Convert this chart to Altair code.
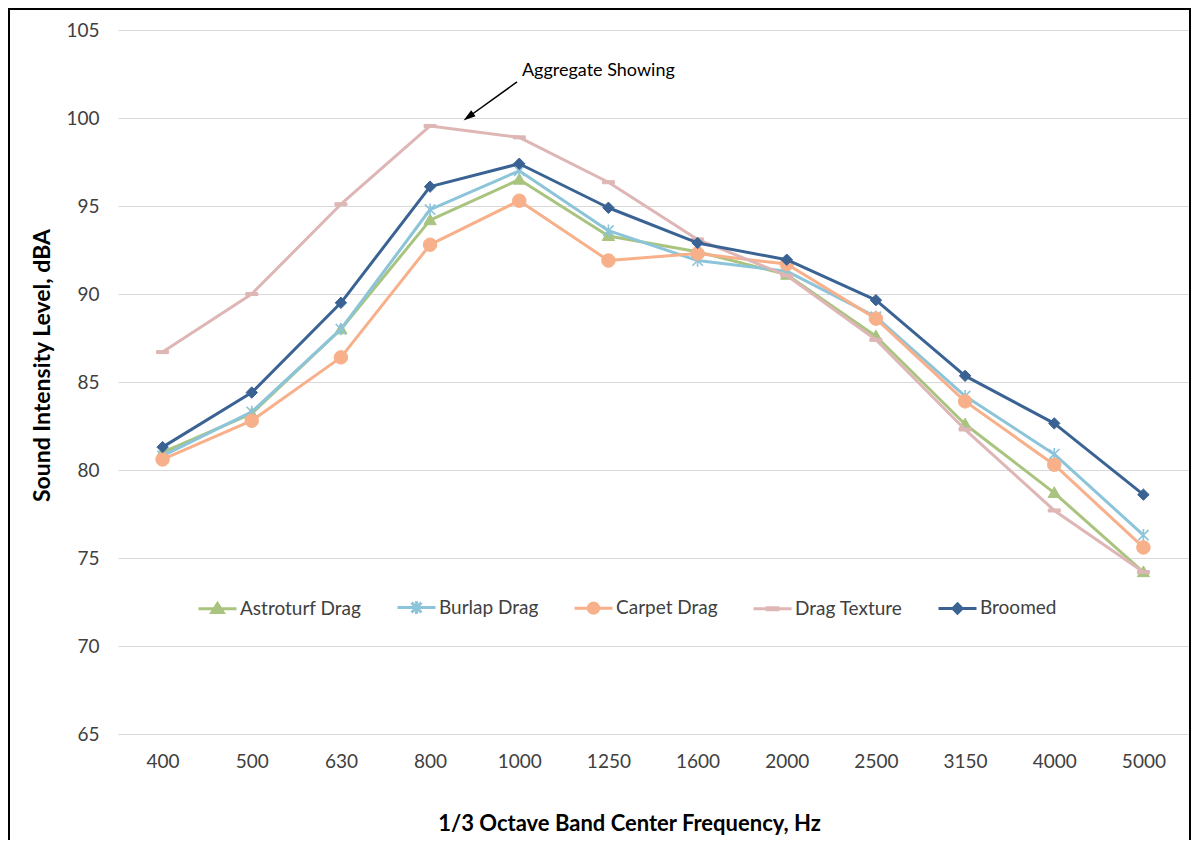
import altair as alt
import pandas as pd

freqs = ["400", "500", "630", "800", "1000", "1250", "1600", "2000", "2500", "3150", "4000", "5000"]
series_names = ["Astroturf Drag", "Burlap Drag", "Carpet Drag", "Drag Texture", "Broomed"]

astroturf = [81.0, 83.2, 88.0, 94.2, 96.5, 93.3, 92.4, 91.1, 87.6, 82.6, 78.7, 74.2]
burlap = [80.8, 83.3, 88.0, 94.8, 97.0, 93.6, 91.9, 91.3, 88.7, 84.2, 80.9, 76.3]
carpet = [80.6, 82.8, 86.4, 92.8, 95.3, 91.9, 92.3, 91.7, 88.6, 83.9, 80.3, 75.6]
drag_texture = [86.7, 90.0, 95.1, 99.55, 98.9, 96.35, 93.1, 91.05, 87.4, 82.3, 77.7, 74.2]
broomed = [81.3, 84.4, 89.5, 96.1, 97.4, 94.9, 92.9, 91.95, 89.65, 85.35, 82.65, 78.6]

colors = ["#A9C47F", "#8CC4D9", "#F7B08A", "#DDB6B5", "#3A6394"]

# marker shapes on the chart
marker_paths = [
    "M0,-1L1,0.75L-1,0.75Z",
    "M-0.85,-0.85L0.85,0.85M-0.85,0.85L0.85,-0.85M0,-1L0,1",
    "M1,0A1,1,0,1,1,-1,0A1,1,0,1,1,1,0Z",
    "M-1,-0.25L1,-0.25L1,0.25L-1,0.25Z",
    "M0,-1L1,0L0,1L-1,0Z",
]
marker_sizes = [150, 150, 180, 144, 130]
marker_strokes = [1, 1.6, 1, 1, 1]

# legend symbols: line + marker
legend_paths = [
    "M-1,0L1,0M0,-0.27L0.3,0.2L-0.3,0.2Z",
    "M-1,0L1,0M-0.26,-0.26L0.26,0.26M-0.26,0.26L0.26,-0.26M0,-0.33L0,0.33",
    "M-1,0L1,0M0.27,0A0.27,0.27,0,1,1,-0.27,0A0.27,0.27,0,1,1,0.27,0Z",
    "M-1,0L1,0M-0.28,-0.05L0.28,-0.05L0.28,0.05L-0.28,0.05Z",
    "M-1,0L1,0M0,-0.24L0.24,0L0,0.24L-0.24,0Z",
]

# annotation
ann_text = pd.DataFrame({"idx": [4.03], "value": [102.67], "label": ["Aggregate Showing"]})
ann_line = pd.DataFrame({"idx": [3.975, 3.44], "value": [102.05, 100.1]})
ann_head = pd.DataFrame({"idx": [3.43], "value": [100.06]})

rows = []
for name, vals in zip(series_names, [astroturf, burlap, carpet, drag_texture, broomed]):
    for i, (f, v) in enumerate(zip(freqs, vals)):
        rows.append({"series": name, "idx": i, "freq": f, "value": v})
df = pd.DataFrame(rows)

FONT = "Lato"
label_expr = "[" + ",".join("'" + f + "'" for f in freqs) + "][datum.value]"

x_enc = alt.X(
    "idx:Q",
    scale=alt.Scale(domain=[-0.5, 11.5], nice=False, zero=False),
    axis=alt.Axis(
        values=list(range(12)), labelExpr=label_expr,
        title="1/3 Octave Band Center Frequency, Hz",
        grid=False, domain=True, domainColor="#D9D9D9", ticks=False,
        labelPadding=18, titlePadding=42, labelFontSize=19, titleFontSize=22,
        titleFontWeight="bold", labelColor="#404040", titleColor="#000000",
        labelFont=FONT, titleFont=FONT, labelAngle=0, titleX=511,
    ),
)
y_enc = alt.Y(
    "value:Q",
    scale=alt.Scale(domain=[65, 105], nice=False, zero=False),
    axis=alt.Axis(
        values=[65, 70, 75, 80, 85, 90, 95, 100, 105],
        title="Sound Intensity Level, dBA",
        grid=True, gridColor="#D9D9D9", gridWidth=1, domain=False, ticks=False,
        labelPadding=19, titlePadding=11, labelFontSize=19, titleFontSize=23,
        titleFontWeight="bold", labelColor="#404040", titleColor="#000000",
        labelFont=FONT, titleFont=FONT, titleY=335,
    ),
)

base = alt.Chart(df)

frame = alt.Chart(pd.DataFrame({"a": [0]})).mark_rect(
    filled=False, stroke="#000000", strokeWidth=2
).encode(
    x=alt.value(-109), x2=alt.value(1072), y=alt.value(-21), y2=alt.value(900)
)

layers = [frame]
for i, name in enumerate(series_names):
    sub = base.transform_filter(alt.datum.series == name)
    layers.append(
        sub.mark_line(color=colors[i], strokeWidth=3, strokeJoin="round").encode(x=x_enc, y=y_enc)
    )
    layers.append(
        sub.mark_point(
            shape=marker_paths[i], size=marker_sizes[i], filled=True,
            fill=colors[i], stroke=colors[i], strokeWidth=marker_strokes[i], opacity=1,
        ).encode(x=x_enc, y=y_enc)
    )

leg = alt.Legend(
    title=None, orient="none", legendX=79, legendY=557, direction="horizontal",
    columns=5, columnPadding=29, labelOffset=2, symbolSize=1444,
    symbolStrokeWidth=3, labelFontSize=19, labelColor="#404040", labelFont=FONT,
    padding=0,
)
legend_layer = base.transform_filter("false").mark_point(
    filled=True, strokeWidth=3, opacity=1
).encode(
    x=x_enc, y=y_enc,
    fill=alt.Fill("series:N", scale=alt.Scale(domain=series_names, range=colors), legend=leg),
    stroke=alt.Stroke("series:N", scale=alt.Scale(domain=series_names, range=colors), legend=leg),
    shape=alt.Shape("series:N", scale=alt.Scale(domain=series_names, range=legend_paths), legend=leg),
)
layers.append(legend_layer)

text_layer = alt.Chart(ann_text).mark_text(
    align="left", baseline="middle", fontSize=18, font=FONT, color="#000000"
).encode(x=x_enc, y=y_enc, text="label:N")
line_layer = alt.Chart(ann_line).mark_line(color="#000000", strokeWidth=1.5).encode(x=x_enc, y=y_enc)
head_layer = alt.Chart(ann_head).mark_point(
    shape="M0,-1L0.6,1L-0.6,1Z", angle=234, size=150, filled=True,
    color="#000000", opacity=1
).encode(x=x_enc, y=y_enc)
layers += [line_layer, head_layer, text_layer]

chart = alt.layer(*layers).properties(
    width=1070, height=704,
    autosize=alt.AutoSizeParams(type="none"),
    padding={"left": 110, "top": 22, "right": 3, "bottom": 106},
    background="#FFFFFF",
).configure(font=FONT).configure_view(strokeWidth=0)

chart.save("out.html", embed_options={"renderer": "svg", "actions": False})
